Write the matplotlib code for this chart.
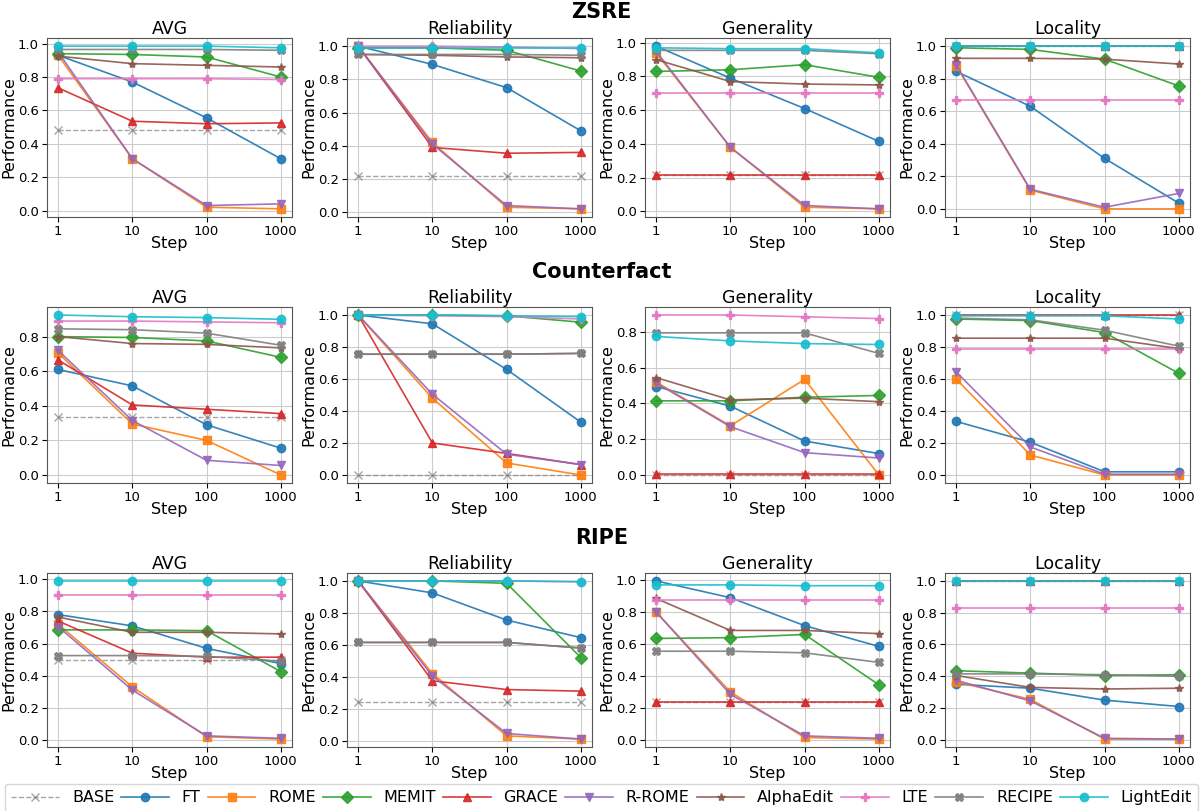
import numpy as np
import matplotlib
matplotlib.use("Agg")
import matplotlib.pyplot as plt

steps = [1, 10, 100, 1000]
methods = ["BASE", "FT", "ROME", "MEMIT", "GRACE", "R-ROME", "AlphaEdit", "LTE", "RECIPE", "LightEdit"]
datasets = ["ZSRE", "Counterfact", "RIPE"]
metrics = ["AVG", "Reliability", "Generality", "Locality"]

# ZSRE
zsre_avg = {
    "BASE": [0.48, 0.48, 0.48, 0.48],
    "FT": [0.93, 0.77, 0.555, 0.31],
    "ROME": [0.93, 0.31, 0.02, 0.01],
    "MEMIT": [0.94, 0.935, 0.92, 0.80],
    "GRACE": [0.735, 0.535, 0.52, 0.525],
    "R-ROME": [0.95, 0.31, 0.03, 0.04],
    "AlphaEdit": [0.925, 0.88, 0.87, 0.86],
    "LTE": [0.79, 0.79, 0.79, 0.785],
    "RECIPE": [0.965, 0.965, 0.965, 0.96],
    "LightEdit": [0.985, 0.985, 0.985, 0.975],
}
zsre_rel = {
    "BASE": [0.22, 0.22, 0.22, 0.22],
    "FT": [1.0, 0.89, 0.75, 0.49],
    "ROME": [1.0, 0.42, 0.03, 0.02],
    "MEMIT": [0.99, 0.99, 0.975, 0.85],
    "GRACE": [1.0, 0.39, 0.355, 0.36],
    "R-ROME": [1.0, 0.41, 0.04, 0.02],
    "AlphaEdit": [0.95, 0.945, 0.935, 0.93],
    "LTE": [1.0, 1.0, 0.995, 0.985],
    "RECIPE": [0.95, 0.95, 0.95, 0.945],
    "LightEdit": [0.99, 0.99, 0.99, 0.99],
}
zsre_gen = {
    "BASE": [0.215, 0.215, 0.215, 0.215],
    "FT": [0.98, 0.79, 0.61, 0.415],
    "ROME": [0.94, 0.38, 0.025, 0.015],
    "MEMIT": [0.83, 0.84, 0.87, 0.795],
    "GRACE": [0.215, 0.215, 0.215, 0.215],
    "R-ROME": [0.95, 0.38, 0.035, 0.015],
    "AlphaEdit": [0.90, 0.77, 0.755, 0.75],
    "LTE": [0.70, 0.70, 0.70, 0.70],
    "RECIPE": [0.955, 0.955, 0.955, 0.935],
    "LightEdit": [0.97, 0.965, 0.965, 0.94],
}
zsre_loc = {
    "BASE": [1.0, 1.0, 1.0, 1.0],
    "FT": [0.845, 0.63, 0.31, 0.035],
    "ROME": [0.88, 0.115, 0.0, 0.0],
    "MEMIT": [0.99, 0.98, 0.92, 0.755],
    "GRACE": [1.0, 1.0, 1.0, 1.0],
    "R-ROME": [0.885, 0.12, 0.01, 0.095],
    "AlphaEdit": [0.925, 0.925, 0.92, 0.89],
    "LTE": [0.67, 0.67, 0.67, 0.67],
    "RECIPE": [1.0, 1.0, 1.0, 1.0],
    "LightEdit": [1.0, 1.0, 1.0, 1.0],
}

# Counterfact
cf_avg = {
    "BASE": [0.335, 0.335, 0.335, 0.335],
    "FT": [0.61, 0.515, 0.29, 0.155],
    "ROME": [0.705, 0.295, 0.20, 0.0],
    "MEMIT": [0.80, 0.795, 0.775, 0.68],
    "GRACE": [0.665, 0.405, 0.38, 0.355],
    "R-ROME": [0.72, 0.315, 0.085, 0.055],
    "AlphaEdit": [0.80, 0.76, 0.755, 0.735],
    "LTE": [0.89, 0.89, 0.885, 0.88],
    "RECIPE": [0.845, 0.84, 0.82, 0.75],
    "LightEdit": [0.925, 0.915, 0.91, 0.90],
}
cf_rel = {
    "BASE": [0.0, 0.0, 0.0, 0.0],
    "FT": [1.0, 0.945, 0.66, 0.33],
    "ROME": [1.0, 0.48, 0.075, 0.0],
    "MEMIT": [1.0, 1.0, 0.995, 0.955],
    "GRACE": [1.0, 0.20, 0.135, 0.065],
    "R-ROME": [1.0, 0.505, 0.13, 0.065],
    "AlphaEdit": [0.755, 0.755, 0.755, 0.76],
    "LTE": [1.0, 0.995, 0.99, 0.975],
    "RECIPE": [0.755, 0.755, 0.755, 0.76],
    "LightEdit": [1.0, 1.0, 0.995, 0.99],
}
cf_gen = {
    "BASE": [0.0, 0.0, 0.0, 0.0],
    "FT": [0.495, 0.385, 0.19, 0.12],
    "ROME": [0.52, 0.275, 0.535, 0.0],
    "MEMIT": [0.415, 0.415, 0.435, 0.445],
    "GRACE": [0.005, 0.005, 0.005, 0.005],
    "R-ROME": [0.515, 0.27, 0.125, 0.095],
    "AlphaEdit": [0.545, 0.42, 0.43, 0.41],
    "LTE": [0.895, 0.895, 0.885, 0.875],
    "RECIPE": [0.795, 0.795, 0.795, 0.68],
    "LightEdit": [0.775, 0.75, 0.735, 0.73],
}
cf_loc = {
    "BASE": [1.0, 1.0, 1.0, 1.0],
    "FT": [0.335, 0.205, 0.02, 0.02],
    "ROME": [0.60, 0.125, 0.0, 0.0],
    "MEMIT": [0.975, 0.965, 0.89, 0.635],
    "GRACE": [1.0, 1.0, 1.0, 1.0],
    "R-ROME": [0.645, 0.175, 0.005, 0.005],
    "AlphaEdit": [0.855, 0.855, 0.855, 0.79],
    "LTE": [0.785, 0.785, 0.785, 0.785],
    "RECIPE": [0.98, 0.97, 0.905, 0.805],
    "LightEdit": [0.995, 0.995, 0.995, 0.975],
}

# RIPE
ripe_avg = {
    "BASE": [0.495, 0.495, 0.495, 0.495],
    "FT": [0.78, 0.71, 0.57, 0.475],
    "ROME": [0.72, 0.33, 0.02, 0.005],
    "MEMIT": [0.685, 0.685, 0.68, 0.425],
    "GRACE": [0.74, 0.54, 0.515, 0.515],
    "R-ROME": [0.705, 0.31, 0.025, 0.01],
    "AlphaEdit": [0.765, 0.67, 0.67, 0.66],
    "LTE": [0.90, 0.90, 0.90, 0.90],
    "RECIPE": [0.525, 0.525, 0.52, 0.49],
    "LightEdit": [0.99, 0.99, 0.99, 0.99],
}
ripe_rel = {
    "BASE": [0.24, 0.24, 0.24, 0.24],
    "FT": [1.0, 0.925, 0.755, 0.645],
    "ROME": [1.0, 0.42, 0.03, 0.01],
    "MEMIT": [1.0, 1.0, 0.985, 0.52],
    "GRACE": [1.0, 0.375, 0.32, 0.31],
    "R-ROME": [1.0, 0.405, 0.045, 0.01],
    "AlphaEdit": [0.615, 0.615, 0.615, 0.58],
    "LTE": [1.0, 1.0, 1.0, 0.995],
    "RECIPE": [0.615, 0.615, 0.615, 0.58],
    "LightEdit": [1.0, 1.0, 1.0, 0.995],
}
ripe_gen = {
    "BASE": [0.24, 0.24, 0.24, 0.24],
    "FT": [0.995, 0.89, 0.715, 0.585],
    "ROME": [0.80, 0.30, 0.015, 0.005],
    "MEMIT": [0.635, 0.64, 0.66, 0.345],
    "GRACE": [0.24, 0.24, 0.24, 0.24],
    "R-ROME": [0.80, 0.285, 0.025, 0.01],
    "AlphaEdit": [0.885, 0.685, 0.685, 0.665],
    "LTE": [0.875, 0.875, 0.875, 0.875],
    "RECIPE": [0.555, 0.555, 0.545, 0.485],
    "LightEdit": [0.97, 0.97, 0.965, 0.965],
}
ripe_loc = {
    "BASE": [1.0, 1.0, 1.0, 1.0],
    "FT": [0.35, 0.325, 0.25, 0.21],
    "ROME": [0.365, 0.255, 0.005, 0.005],
    "MEMIT": [0.435, 0.42, 0.405, 0.41],
    "GRACE": [1.0, 1.0, 1.0, 1.0],
    "R-ROME": [0.375, 0.245, 0.01, 0.005],
    "AlphaEdit": [0.405, 0.33, 0.32, 0.325],
    "LTE": [0.83, 0.83, 0.83, 0.83],
    "RECIPE": [0.415, 0.415, 0.41, 0.40],
    "LightEdit": [1.0, 1.0, 1.0, 1.0],
}

all_data = [
    [zsre_avg, zsre_rel, zsre_gen, zsre_loc],
    [cf_avg, cf_rel, cf_gen, cf_loc],
    [ripe_avg, ripe_rel, ripe_gen, ripe_loc],
]

# стиль линий
styles = {
    "BASE": dict(color="gray", marker="x"),
    "FT": dict(color="tab:blue", marker="o"),
    "ROME": dict(color="tab:orange", marker="s"),
    "MEMIT": dict(color="tab:green", marker="D"),
    "GRACE": dict(color="tab:red", marker="^"),
    "R-ROME": dict(color="tab:purple", marker="v"),
    "AlphaEdit": dict(color="tab:brown", marker="*"),
    "LTE": dict(color="tab:pink", marker="P"),
    "RECIPE": dict(color="tab:gray", marker="X"),
    "LightEdit": dict(color="tab:cyan", marker="o"),
}

fig = plt.figure(figsize=(12.03, 8.11), dpi=100)

lefts = [47, 347, 645, 945]
rows = [(38, 217), (307, 483), (573, 747)]
W, H = 1203.0, 811.0

for r in range(3):
    top, bot = rows[r]
    for c in range(4):
        ax = fig.add_axes([lefts[c] / W, 1 - bot / H, 245 / W, (bot - top) / H])
        d = all_data[r][c]
        for m in methods:
            st = styles[m]
            if m == "BASE":
                ax.plot(steps, d[m], color=st["color"], marker=st["marker"], ls="--",
                        lw=1.0, ms=6, alpha=0.7, label=m)
            else:
                ax.plot(steps, d[m], color=st["color"], marker=st["marker"], lw=1.2,
                        ms=6, alpha=0.9, label=m)
        ax.set_xscale("log")
        ax.set_xticks(steps)
        ax.set_xticklabels(["1", "10", "100", "1000"])
        ax.minorticks_off()
        ax.tick_params(labelsize=9.5, pad=2.5)
        ax.grid(True, color="#cccccc", lw=0.8)
        ax.set_title(metrics[c], fontsize=12.5, pad=3)
        ax.set_xlabel("Step", fontsize=11.5, labelpad=-2)
        ax.set_ylabel("Performance", fontsize=11.5, labelpad=1)
        for s in ax.spines.values():
            s.set_color("#555555")

fig.text(0.5, 1 - 12 / H, "ZSRE", ha="center", va="center", fontsize=15, fontweight="bold")
fig.text(0.5, 1 - 272 / H, "Counterfact", ha="center", va="center", fontsize=15, fontweight="bold")
fig.text(0.5, 1 - 538 / H, "RIPE", ha="center", va="center", fontsize=15, fontweight="bold")

handles, labels = fig.axes[0].get_legend_handles_labels()
fig.legend(handles, labels, loc="lower left", ncol=10, fontsize=11.5,
           bbox_to_anchor=(5 / W, -0.001, 1193 / W, 0.033), mode="expand", borderaxespad=0.0,
           handlelength=3, frameon=True)

plt.savefig("out.png", dpi=100)
